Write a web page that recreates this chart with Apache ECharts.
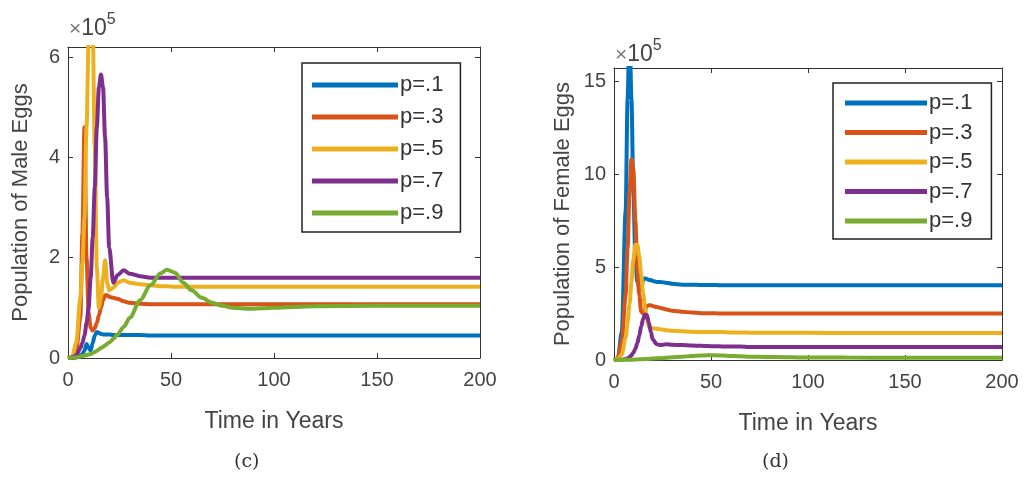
<!DOCTYPE html>
<html>
<head>
<meta charset="utf-8">
<script src="https://cdn.jsdelivr.net/npm/echarts@6/dist/echarts.min.js"></script>
<style>
  html, body { margin: 0; padding: 0; background: #fff; }
  #main { width: 1024px; height: 482px; }
</style>
</head>
<body>
<div id="main"></div>
<script>
// time points (years)
var years = [0, 2, 4, 6, 7, 8, 9, 10, 11, 12, 13, 14, 15, 16, 17, 18, 19, 20, 22, 24,
             27, 30, 35, 40, 45, 48, 52, 56, 60, 65, 70, 75, 80, 88, 95, 100, 120, 150, 200];

var names = ['p=.1', 'p=.3', 'p=.5', 'p=.7', 'p=.9'];
var colors = ['#0072BD', '#D95319', '#EDB120', '#7E2F8E', '#77AC30'];

// male eggs, x10^5
var maleP1 = [0, 0, 0.01, 0.04, 0.08, 0.15, 0.28, 0.2, 0.15, 0.3, 0.45, 0.52, 0.5, 0.48, 0.47, 0.47, 0.47, 0.47, 0.46, 0.46,
              0.46, 0.46, 0.46, 0.45, 0.45, 0.45, 0.45, 0.45, 0.45, 0.45, 0.45, 0.45, 0.45, 0.45, 0.45, 0.45, 0.45, 0.45, 0.45];
var maleP3 = [0, 0.02, 0.15, 0.8, 2.5, 4.6, 2.0, 0.9, 0.6, 0.55, 0.6, 0.7, 0.85, 1.0, 1.15, 1.25, 1.25, 1.22, 1.2, 1.18,
              1.13, 1.1, 1.08, 1.07, 1.07, 1.07, 1.07, 1.07, 1.07, 1.07, 1.07, 1.07, 1.07, 1.07, 1.07, 1.07, 1.07, 1.07, 1.07];
var maleP5 = [0, 0.02, 0.3, 1.2, 1.9, 2.8, 4.6, 6.3, 6.8, 6.5, 4.2, 1.8, 1.0, 1.2, 1.6, 1.95, 1.5, 1.35, 1.4, 1.5,
              1.55, 1.5, 1.47, 1.45, 1.43, 1.43, 1.42, 1.42, 1.42, 1.42, 1.42, 1.42, 1.42, 1.42, 1.42, 1.42, 1.42, 1.42, 1.42];
var maleP7 = [0, 0.01, 0.05, 0.2, 0.3, 0.45, 0.7, 1.0, 1.6, 2.4, 3.4, 4.6, 5.4, 5.65, 5.4, 4.4, 3.2, 2.2, 1.5, 1.65,
              1.75, 1.68, 1.63, 1.6, 1.6, 1.6, 1.6, 1.6, 1.6, 1.6, 1.6, 1.6, 1.6, 1.6, 1.6, 1.6, 1.6, 1.6, 1.6];
var maleP9 = [0, 0.005, 0.015, 0.03, 0.04, 0.05, 0.06, 0.07, 0.08, 0.1, 0.12, 0.14, 0.17, 0.2, 0.22, 0.25, 0.28, 0.31, 0.38, 0.47,
              0.62, 0.8, 1.15, 1.45, 1.69, 1.76, 1.7, 1.5, 1.35, 1.2, 1.1, 1.04, 1.0, 0.98, 0.99, 1.0, 1.03, 1.04, 1.04];

// female eggs, x10^5
var femP1 = [0, 0.1, 1.5, 8, 14, 18, 14, 9, 5.5, 4.2, 3.9, 3.8, 4.3, 4.4, 4.35, 4.3, 4.3, 4.25, 4.2, 4.2,
             4.15, 4.1, 4.05, 4.05, 4.03, 4.03, 4.03, 4.02, 4.02, 4.02, 4.02, 4.02, 4.02, 4.02, 4.02, 4.02, 4.02, 4.02, 4.02];
var femP3 = [0, 0.1, 1.0, 3.5, 6, 9, 10.8, 10.2, 7.5, 5, 3.5, 2.6, 2.5, 2.7, 2.9, 2.95, 2.95, 2.9, 2.85, 2.8,
             2.72, 2.65, 2.6, 2.55, 2.52, 2.52, 2.51, 2.5, 2.5, 2.5, 2.5, 2.5, 2.5, 2.5, 2.5, 2.5, 2.5, 2.5, 2.5];
var femP5 = [0, 0.05, 0.3, 1.2, 2.0, 3.0, 4.2, 5.4, 6.2, 6.2, 5.6, 4.6, 3.6, 2.8, 2.2, 1.8, 1.7, 1.7, 1.68, 1.65,
             1.6, 1.57, 1.55, 1.52, 1.5, 1.5, 1.5, 1.5, 1.48, 1.48, 1.47, 1.47, 1.47, 1.46, 1.46, 1.46, 1.45, 1.45, 1.45];
var femP7 = [0, 0, 0.02, 0.05, 0.1, 0.15, 0.25, 0.4, 0.6, 0.9, 1.3, 1.8, 2.2, 2.45, 2.4, 2.0, 1.5, 1.1, 0.85, 0.8,
             0.85, 0.82, 0.8, 0.78, 0.76, 0.75, 0.74, 0.73, 0.72, 0.72, 0.7, 0.7, 0.7, 0.7, 0.7, 0.7, 0.7, 0.7, 0.7];
var femP9 = [0, 0, 0.005, 0.01, 0.012, 0.015, 0.018, 0.02, 0.025, 0.03, 0.035, 0.04, 0.045, 0.05, 0.055, 0.06, 0.07, 0.08, 0.09, 0.1,
             0.12, 0.15, 0.18, 0.21, 0.24, 0.25, 0.25, 0.24, 0.22, 0.2, 0.18, 0.17, 0.16, 0.15, 0.14, 0.14, 0.13, 0.12, 0.12];

var maleData = [maleP1, maleP3, maleP5, maleP7, maleP9];
var femData = [femP1, femP3, femP5, femP7, femP9];

var myChart = echarts.init(document.getElementById('main'));

var font = 'Liberation Sans Narrow, Liberation Sans, Arial, sans-serif';

function pairs(vals) {
    var out = [];
    for (var i = 0; i < years.length; i++) out.push([years[i], vals[i]]);
    return out;
}

// bottom / left axes carry labels, top / right only ticks (matlab box)
function xAxes(gi) {
    return [{
        type: 'value', gridIndex: gi, min: 0, max: 200, interval: 50,
        name: 'Time in Years', nameLocation: 'middle', nameGap: 52,
        nameTextStyle: { fontFamily: font, fontSize: 23, color: '#444' },
        axisLine: { onZero: false, lineStyle: { color: '#333', width: 1 } },
        axisTick: { inside: true, length: 5, lineStyle: { color: '#333' } },
        axisLabel: { margin: 12, fontFamily: font, fontSize: 20, color: '#444' },
        splitLine: { show: false }
    }, {
        type: 'value', gridIndex: gi, position: 'top', min: 0, max: 200, interval: 50,
        axisLine: { onZero: false, lineStyle: { color: '#333', width: 1 } },
        axisTick: { inside: true, length: 5, lineStyle: { color: '#333' } },
        axisLabel: { show: false },
        splitLine: { show: false }
    }];
}

function yAxes(gi, max, interval, title, gap) {
    return [{
        type: 'value', gridIndex: gi, min: 0, max: max, interval: interval,
        name: title, nameLocation: 'middle', nameGap: gap, nameRotate: 90,
        nameTextStyle: { fontFamily: font, fontSize: 22, color: '#444' },
        axisLine: { show: true, onZero: false, lineStyle: { color: '#333', width: 1 } },
        axisTick: { show: true, inside: true, length: 5, lineStyle: { color: '#333' } },
        axisLabel: { margin: 8, fontFamily: font, fontSize: 20, color: '#444' },
        splitLine: { show: false }
    }, {
        type: 'value', gridIndex: gi, position: 'right', min: 0, max: max, interval: interval,
        axisLine: { show: true, onZero: false, lineStyle: { color: '#333', width: 1 } },
        axisTick: { show: true, inside: true, length: 5, lineStyle: { color: '#333' } },
        axisLabel: { show: false },
        splitLine: { show: false }
    }];
}

var series = [];
for (var i = 0; i < names.length; i++) {
    series.push({
        name: names[i], type: 'line', xAxisIndex: 0, yAxisIndex: 0,
        data: pairs(maleData[i]), showSymbol: false, smooth: 0.3, smoothMonotone: 'x',
        clip: true, color: colors[i], lineStyle: { width: 4 }
    });
}
for (var j = 0; j < names.length; j++) {
    series.push({
        name: names[j], type: 'line', xAxisIndex: 2, yAxisIndex: 2,
        data: pairs(femData[j]), showSymbol: false, smooth: 0.3, smoothMonotone: 'x',
        clip: true, color: colors[j], lineStyle: { width: 4 }
    });
}

function legendAt(left, top, w, pad, gap) {
    return {
        left: left, top: top, orient: 'vertical', data: names,
        icon: 'rect', itemWidth: w, itemHeight: 5, itemGap: gap,
        padding: pad, borderColor: '#222', borderWidth: 1.5,
        backgroundColor: '#fff', selectedMode: false,
        textStyle: { fontFamily: font, fontSize: 22, color: '#333', lineHeight: 20, padding: [0, 0, 0, -3] }
    };
}

function power(x, y) {
    return {
        type: 'text', left: x, top: y,
        style: {
            text: '{a|×}{b|10}{c|5}',
            rich: {
                a: { fontFamily: font, fontSize: 21, fill: '#777', verticalAlign: 'bottom' },
                b: { fontFamily: font, fontSize: 23, fill: '#444', verticalAlign: 'bottom' },
                c: { fontFamily: font, fontSize: 16, fill: '#444', verticalAlign: 'top', padding: [0, 0, 12, 0] }
            }
        }
    };
}

var option = {
    backgroundColor: '#fff',
    animation: false,
    grid: [
        { left: 68, top: 47, width: 412, height: 311 },
        { left: 614, top: 68, width: 388, height: 292 }
    ],
    xAxis: xAxes(0).concat(xAxes(1)),
    yAxis: yAxes(0, 6.2, 2, 'Population of Male Eggs', 36).concat(yAxes(1, 15.7, 5, 'Population of Female Eggs', 40)),
    legend: [
        legendAt(302, 63, 86, [11, 17, 8, 10], 10),
        legendAt(833, 83, 82, [9, 19, 7, 12], 7.5)
    ],
    graphic: [
        power(69, 12),
        power(615, 38),
        { type: 'text', left: 234, top: 453, style: { text: '(c)', fontFamily: 'DejaVu Serif, Liberation Serif, serif', fontSize: 19, fill: '#333' } },
        { type: 'text', left: 762, top: 453, style: { text: '(d)', fontFamily: 'DejaVu Serif, Liberation Serif, serif', fontSize: 19, fill: '#333' } }
    ],
    series: series
};

myChart.setOption(option);
</script>
</body>
</html>
